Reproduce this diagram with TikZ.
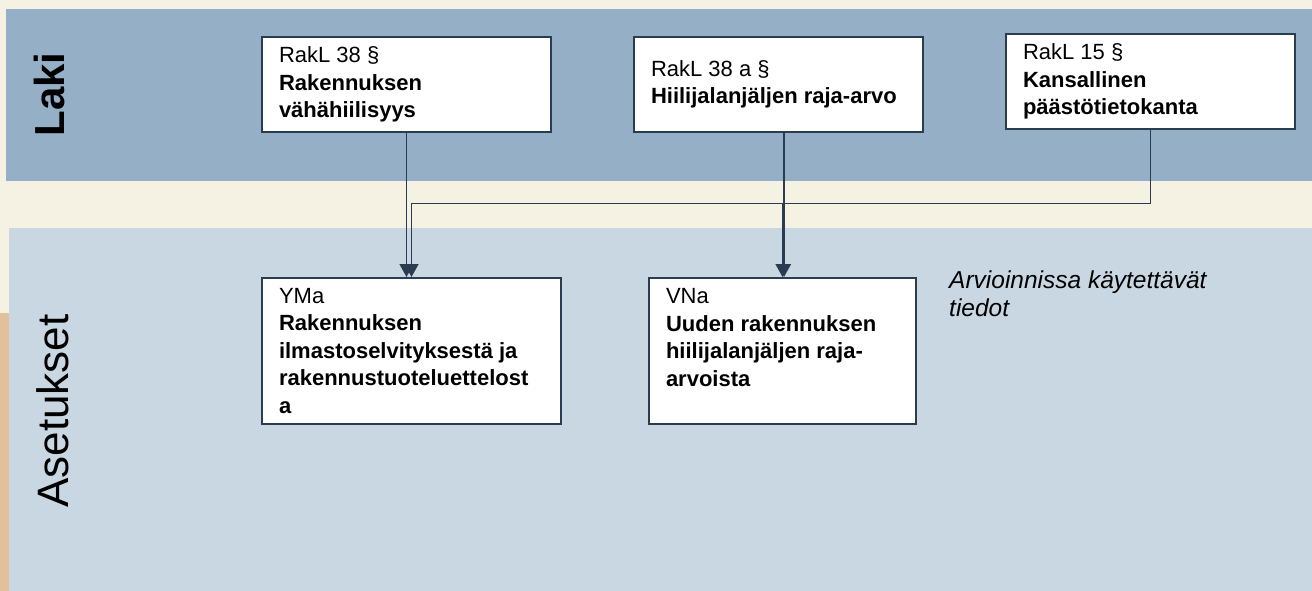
\documentclass[tikz,border=0pt]{standalone}
\usepackage{fontspec}
\setmainfont{Liberation Sans}
\usetikzlibrary{arrows.meta}
\definecolor{cream}{HTML}{F5F1E3}
\definecolor{lakiblue}{HTML}{95AFC7}
\definecolor{asetblue}{HTML}{C9D7E2}
\definecolor{tanstrip}{HTML}{E2C09D}
\definecolor{navy}{HTML}{2A3D50}
\tikzset{
  lawbox/.style={draw=navy, line width=2pt, fill=white, inner xsep=17pt, inner ysep=0pt,
    align=flush left, font=\fontsize{22}{27.5}\selectfont, text=black},
  conn/.style={draw=navy, line width=1.5pt},
  arr/.style={conn, -{Triangle[width=14pt,length=13pt]}},
  bandlabel/.style={rotate=90, inner sep=0pt, text=black}
}
\begin{document}
\begin{tikzpicture}[x=1pt,y=-1pt]
\fill[cream] (0,0) rectangle (1312,591);
\useasboundingbox (0,0) rectangle (1312,591);
\fill[lakiblue] (6,9) rectangle (1312,181);
\fill[asetblue] (9,228) rectangle (1312,591);
\fill[tanstrip] (0,313) rectangle (9,591);

\node[bandlabel, font=\fontsize{42}{48}\selectfont\bfseries] (laki) at (49.5,94.5) {Laki};
\node[bandlabel, font=\fontsize{44}{50}\selectfont] (asetukset) at (52.5,411) {Asetukset};

\node[lawbox, minimum width=289pt, minimum height=95pt, text width=255pt] (b1) at (406.5,84.5)
  {RakL 38 §\\ \textbf{Rakennuksen}\\ \textbf{vähähiilisyys}};
\node[lawbox, minimum width=289pt, minimum height=95pt, text width=255pt] (b2) at (778.5,84.5)
  {RakL 38 a §\\ \textbf{Hiilijalanjäljen raja-arvo}};
\node[lawbox, minimum width=289pt, minimum height=95pt, text width=255pt] (b3) at (1150.5,81.5)
  {RakL 15 §\\ \textbf{Kansallinen}\\ \textbf{päästötietokanta}};

\node[lawbox, minimum width=299pt, minimum height=146pt, text width=265pt] (b4) at (411.5,351)
  {YMa\\ \textbf{Rakennuksen}\\ \textbf{ilmastoselvityksestä ja}\\ \textbf{rakennustuoteluettelost}\\ \textbf{a}};
\node[lawbox, minimum width=267pt, minimum height=146pt, text width=233pt] (b5) at (782.5,351)
  {VNa\\ \textbf{Uuden rakennuksen}\\ \textbf{hiilijalanjäljen raja-}\\ \textbf{arvoista}\\ \mbox{}};

\node[anchor=north west, inner sep=0pt, align=left, font=\fontsize{24.5}{28}\selectfont\itshape] (note) at (949,269)
  {\strut Arvioinnissa käytettävät\\ tiedot};

\coordinate (j) at (0,203.5);
\draw[arr] (b1.south) -- (b1.south |- b4.north);
\draw[arr] (b3.south) |- (b4.north |- j) -- (b4.north);
\draw[arr] (b5.north |- j) -- (b5.north);
\draw[arr] ([xshift=5.5pt]b2.south) -- ([xshift=1.5pt]b5.north);
\end{tikzpicture}
\end{document}
